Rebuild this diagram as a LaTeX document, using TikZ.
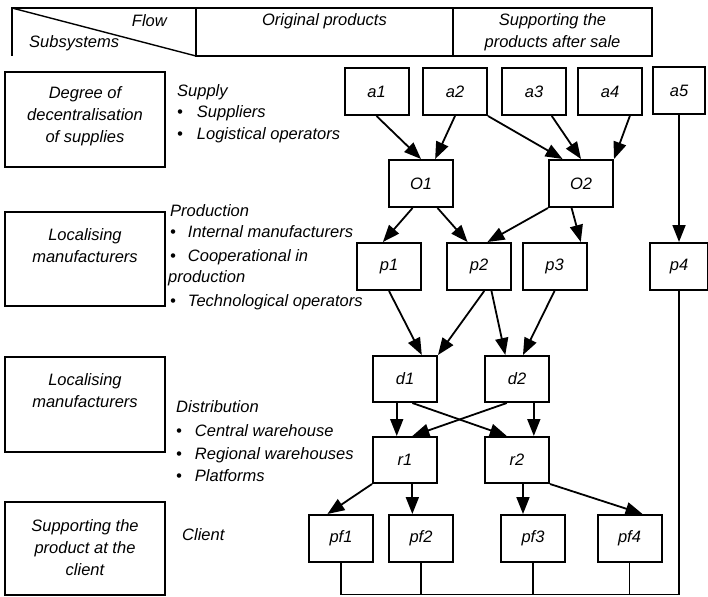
\documentclass[tikz,border=0pt]{standalone}
\usepackage{fontspec}
\setmainfont{Liberation Sans}
\usetikzlibrary{arrows.meta}

\begin{document}
\begin{tikzpicture}[x=1pt,y=-1pt]
    % Styles
    \tikzset{every node/.style={font=\fontsize{16.5}{22}\selectfont\itshape}}
    \tikzset{flowbox/.style={draw, line width=2pt, minimum width=64pt, minimum height=47pt, inner sep=0pt}}
    \tikzstyle{subsys}=[draw, line width=2pt, minimum width=160pt, inner sep=0pt]
    \tikzstyle{flowarrow}=[-{Triangle[length=17pt,width=13pt]}, line width=1.8pt]
    \tikzstyle{busline}=[line width=1.8pt]
    \tikzstyle{listitem}=[anchor=west, inner sep=0pt, text height=12pt, text depth=3.5pt]

    \useasboundingbox (0,0) rectangle (708,596);

    % Header of the table
    \draw[line width=2pt] (12,56) -- (12,8) -- (652,8) -- (652,56) -- (196,56) -- (196,8);
    \draw[line width=2pt] (453,8) -- (453,56);
    \draw[line width=1.4pt] (12,8) -- (196,56);
    \node[listitem, anchor=east] (hdr_flow) at (167,22) {Flow};
    \node[listitem] (hdr_sub) at (29,43) {Subsystems};
    \node (hdr_orig) at (324.5,21) {Original products};
    \node[align=center] (hdr_after) at (552.5,32) {Supporting the\\products after sale};

    % Subsystems on the left
    \node[subsys, minimum height=95pt] (sub_supply) at (85,119.5) {};
    \node[align=center] (sub_supply_txt) at (85,116.5) {Degree of\\decentralisation\\of supplies};
    \node[subsys, minimum height=94pt] (sub_prod) at (85,259) {};
    \node[align=center] (sub_prod_txt) at (85,245.5) {Localising\\manufacturers};
    \node[subsys, minimum height=95pt] (sub_distr) at (85,404.5) {};
    \node[align=center] (sub_distr_txt) at (85,391) {Localising\\manufacturers};
    \node[subsys, minimum height=93pt] (sub_client) at (85,548.5) {};
    \node[align=center] (sub_client_txt) at (85,547.5) {Supporting the\\product at the\\client};

    % Lists of actors
    \node[listitem] (lst_supply) at (177,92) {Supply};
    \node[listitem] (lst_supply_1) at (177,113) {\textbullet\hspace{14pt}Suppliers};
    \node[listitem] (lst_supply_2) at (177,135) {\textbullet\hspace{14pt}Logistical operators};

    \node[listitem] (lst_prod) at (170,212) {Production};
    \node[listitem] (lst_prod_1) at (170,233) {\textbullet\hspace{12pt}Internal manufacturers};
    \node[listitem] (lst_prod_2) at (170,257) {\textbullet\hspace{12pt}Cooperational in};
    \node[listitem] (lst_prod_2b) at (168,278) {production};
    \node[listitem] (lst_prod_3) at (170,302) {\textbullet\hspace{12pt}Technological operators};

    \node[listitem] (lst_distr) at (176,408) {Distribution};
    \node[listitem] (lst_distr_1) at (176,432) {\textbullet\hspace{13pt}Central warehouse};
    \node[listitem] (lst_distr_2) at (176,455) {\textbullet\hspace{13pt}Regional warehouses};
    \node[listitem] (lst_distr_3) at (176,477) {\textbullet\hspace{13pt}Platforms};

    \node[listitem] (lst_client) at (182,536) {Client};

    % Supply
    \node[flowbox] (a1) at (376.5,91.5) {a1};
    \node[flowbox] (a2) at (455,91.5) {a2};
    \node[flowbox] (a3) at (534,91.5) {a3};
    \node[flowbox] (a4) at (610,91.5) {a4};
    \node[flowbox, minimum width=52pt] (a5) at (679,90.5) {a5};
    \node[flowbox] (o1) at (421,183.5) {O1};
    \node[flowbox] (o2) at (581,183.5) {O2};

    % Production
    \node[flowbox] (p1) at (389,266.5) {p1};
    \node[flowbox] (p2) at (479,266.5) {p2};
    \node[flowbox] (p3) at (554.5,266.5) {p3};
    \node[flowbox, minimum width=58pt] (p4) at (679,266.5) {p4};

    % Distribution
    \node[flowbox, minimum height=46pt] (d1) at (405,379) {d1};
    \node[flowbox, minimum height=46pt] (d2) at (517,379) {d2};
    \node[flowbox, minimum height=46pt] (r1) at (405,460) {r1};
    \node[flowbox, minimum height=46pt] (r2) at (517,460) {r2};

    % Client
    \node[flowbox] (pf1) at (341,538.5) {pf1};
    \node[flowbox] (pf2) at (421,538.5) {pf2};
    \node[flowbox] (pf3) at (533,538.5) {pf3};
    \node[flowbox] (pf4) at (629.5,538.5) {pf4};

    % Flows
    \draw[flowarrow] (a1.south) -- (o1.north);
    \draw[flowarrow] (a2.south) -- (o1.60);
    \draw[flowarrow] (a2.south east) -- (o2.127);
    \draw[flowarrow] (a3.306) -- (o2.north);
    \draw[flowarrow] (a4.309) -- (o2.north east);
    \draw[flowarrow] (a5.south) -- (p4.north);

    \draw[flowarrow] (o1.251) -- (p1.104);
    \draw[flowarrow] (o1.304) -- (p2.115);
    \draw[flowarrow] (o2.south west) -- (p2.71);
    \draw[flowarrow] (o2.249) -- (p3.43);

    \draw[flowarrow] (p1.south) -- (d1.55);
    \draw[flowarrow] (p2.282) -- (d1.north east);
    \draw[flowarrow] (p2.297) -- (d2.116);
    \draw[flowarrow] (p3.south) -- (d2.76);

    \draw[flowarrow] (d1.251) -- (d1.251 |- r1.north);
    \draw[flowarrow] (d1.287) -- (r2.113);
    \draw[flowarrow] (d2.247) -- (r1.73);
    \draw[flowarrow] (d2.305) -- (d2.305 |- r2.north);

    \draw[flowarrow] (r1.south west) -- (pf1.119);
    \draw[flowarrow] (r1.287) -- (r1.287 |- pf2.north);
    \draw[flowarrow] (r2.284) -- (r2.284 |- pf3.north);
    \draw[flowarrow] (r2.south east) -- (pf4.62);

    % Link after sale
    \coordinate (bus) at (0,594.5);
    \draw[busline] (pf1.south) -- (pf1.south |- bus) -- (p4.south |- bus) -- (p4.south);
    \draw[busline] (pf2.south) -- (pf2.south |- bus);
    \draw[busline] (pf3.south) -- (pf3.south |- bus);
    \draw[busline] (pf4.south) -- (pf4.south |- bus);
\end{tikzpicture}
\end{document}
